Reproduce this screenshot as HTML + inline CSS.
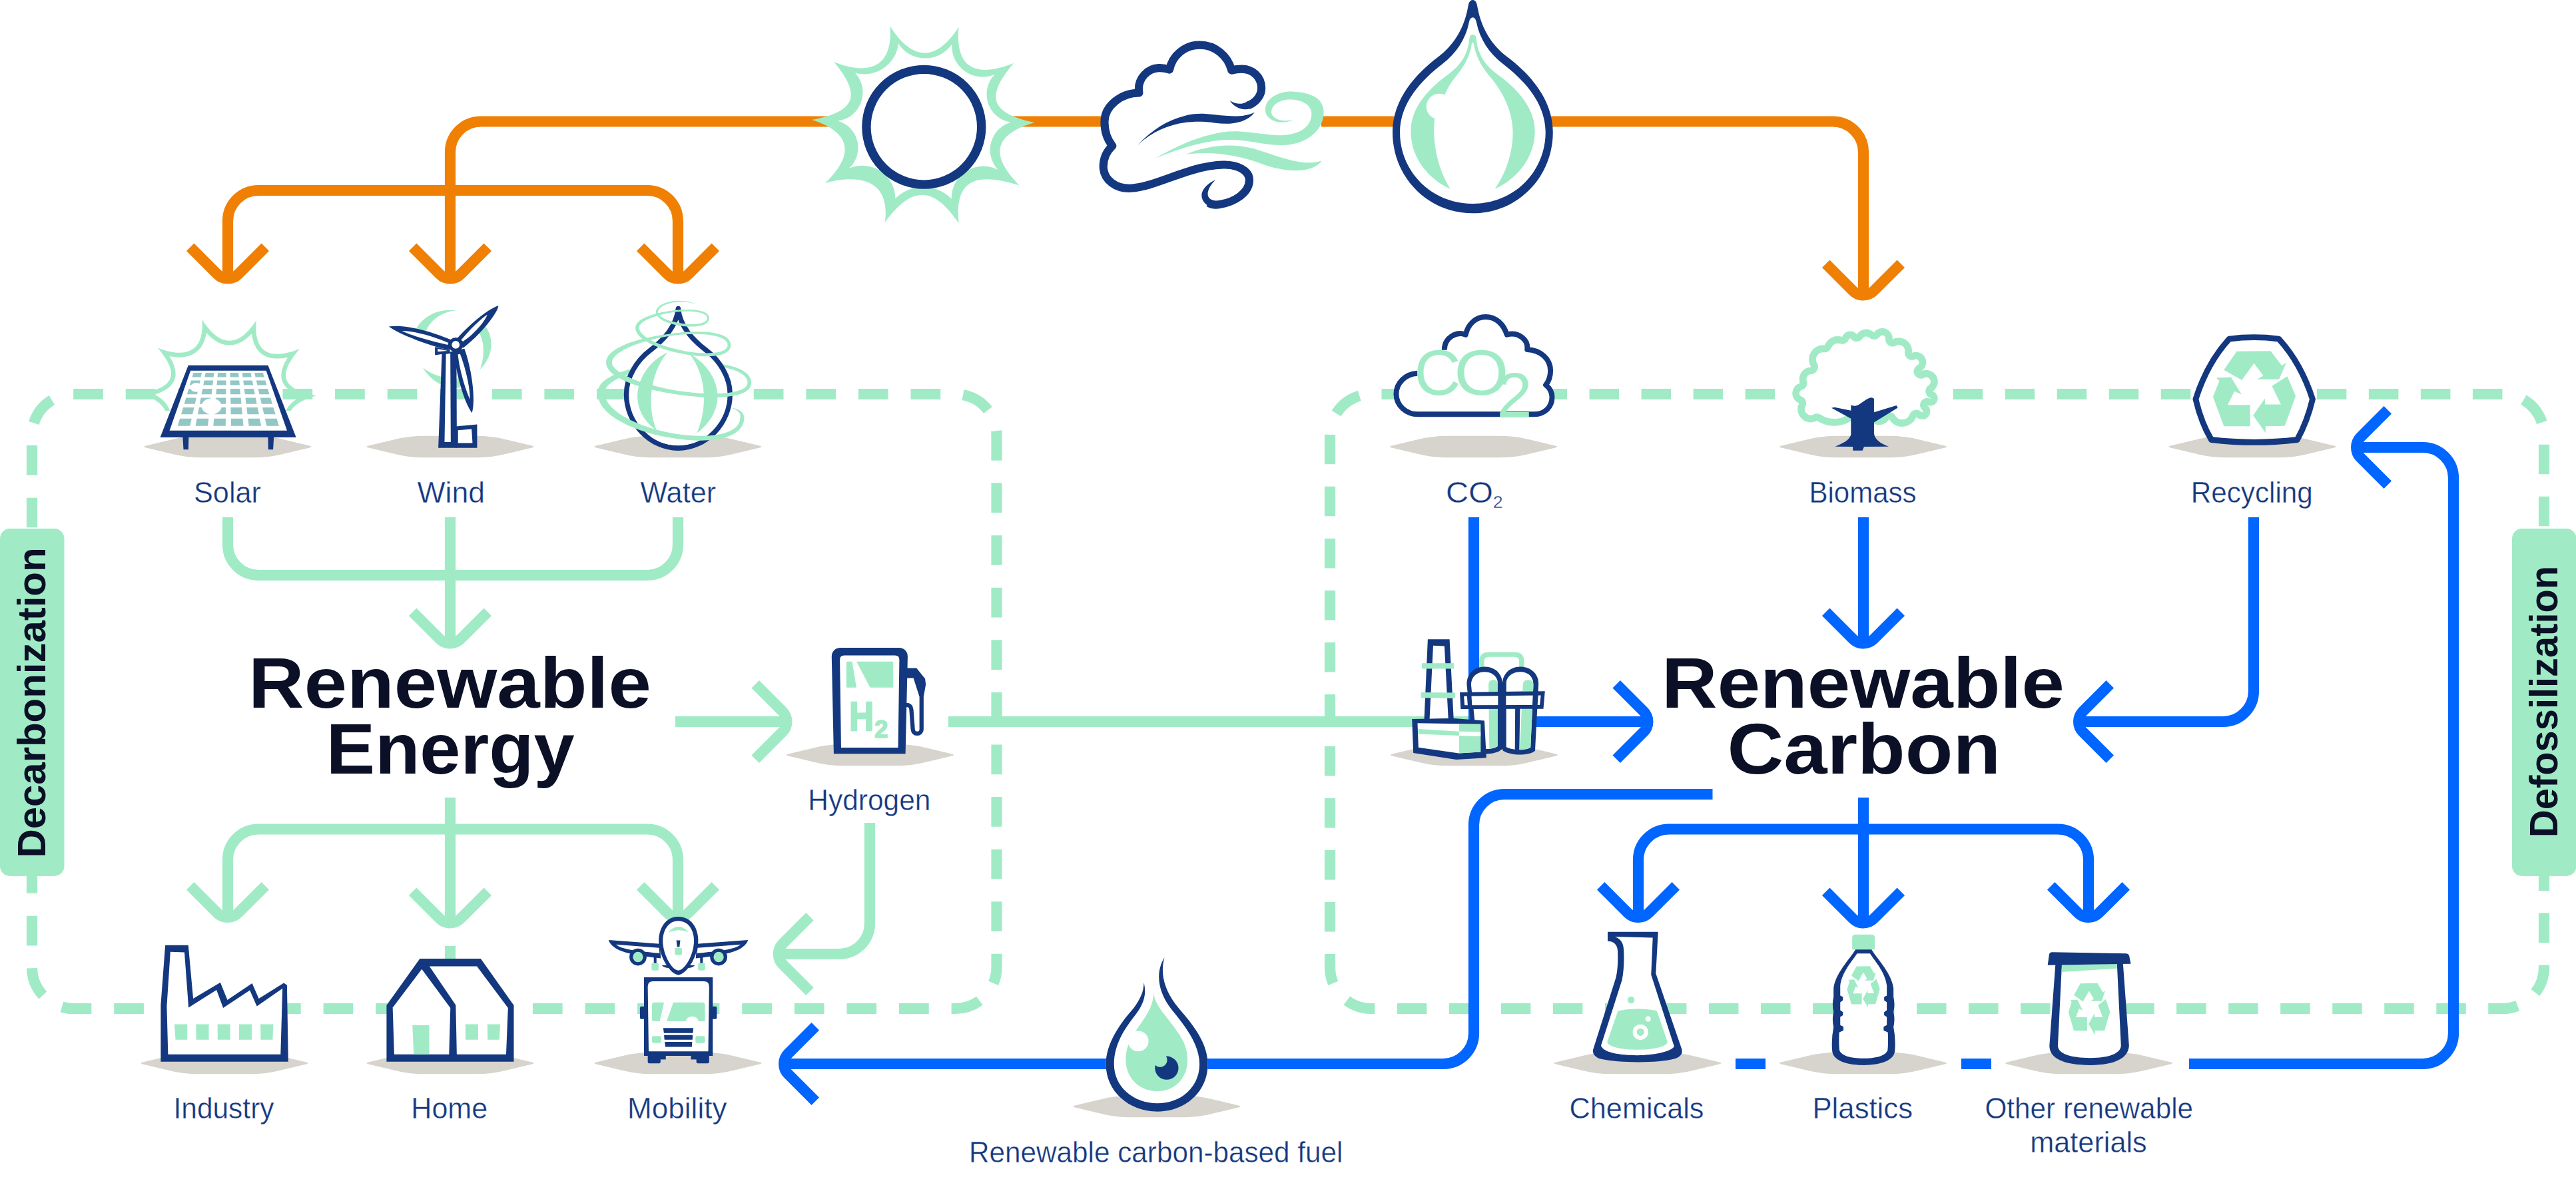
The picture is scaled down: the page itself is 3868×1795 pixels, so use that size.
<!DOCTYPE html><html><head><meta charset="utf-8"><title>Renewable Energy and Renewable Carbon</title><style>html,body{margin:0;padding:0;background:#fff}svg{display:block}text{font-family:"Liberation Sans",sans-serif}.lb{stroke:#fff;stroke-width:0.4px}</style></head><body>
<svg width="3868" height="1795" viewBox="0 0 3868 1795">
<rect width="3868" height="1795" fill="#fff"/>
<path d="M48,1000 V654 A62,62 0 0 1 110,592 H1434.5 A62,62 0 0 1 1496.5,654 V1453 A62,62 0 0 1 1434.5,1515 H110 A62,62 0 0 1 48,1453 V1000" fill="none" stroke="#a0ebc6" stroke-width="16.2" stroke-dasharray="44.7 33.886" stroke-dashoffset="-50.459"/>
<path d="M3820,1000 V1453 A62,62 0 0 1 3758,1515 H2059 A62,62 0 0 1 1997,1453 V654 A62,62 0 0 1 2059,592 H3758 A62,62 0 0 1 3820,654 V1000" fill="none" stroke="#a0ebc6" stroke-width="16.2" stroke-dasharray="44.5 33.520" stroke-dashoffset="-59.348"/>
<path d="M219.3,669.5 L258.2,660.2 Q279.5,654.7 303.5,654.7 L380.5,654.7 Q404.5,654.7 425.8,660.2 L464.7,669.5 Q470.5,671.0 464.7,672.5 L425.8,681.8 Q404.5,687.3 380.5,687.3 L303.5,687.3 Q279.5,687.3 258.2,681.8 L219.3,672.5 Q213.5,671.0 219.3,669.5 Z" fill="#d7d3cd"/>
<path d="M553.3,669.5 L592.2,660.2 Q613.5,654.7 637.5,654.7 L714.5,654.7 Q738.5,654.7 759.8,660.2 L798.7,669.5 Q804.5,671.0 798.7,672.5 L759.8,681.8 Q738.5,687.3 714.5,687.3 L637.5,687.3 Q613.5,687.3 592.2,681.8 L553.3,672.5 Q547.5,671.0 553.3,669.5 Z" fill="#d7d3cd"/>
<path d="M895.3,669.5 L934.2,660.2 Q955.5,654.7 979.5,654.7 L1056.5,654.7 Q1080.5,654.7 1101.8,660.2 L1140.7,669.5 Q1146.5,671.0 1140.7,672.5 L1101.8,681.8 Q1080.5,687.3 1056.5,687.3 L979.5,687.3 Q955.5,687.3 934.2,681.8 L895.3,672.5 Q889.5,671.0 895.3,669.5 Z" fill="#d7d3cd"/>
<path d="M2089.8,669.5 L2128.7,660.2 Q2150.0,654.7 2174.0,654.7 L2251.0,654.7 Q2275.0,654.7 2296.3,660.2 L2335.2,669.5 Q2341.0,671.0 2335.2,672.5 L2296.3,681.8 Q2275.0,687.3 2251.0,687.3 L2174.0,687.3 Q2150.0,687.3 2128.7,681.8 L2089.8,672.5 Q2084.0,671.0 2089.8,669.5 Z" fill="#d7d3cd"/>
<path d="M2674.8,669.5 L2713.7,660.2 Q2735.0,654.7 2759.0,654.7 L2836.0,654.7 Q2860.0,654.7 2881.3,660.2 L2920.2,669.5 Q2926.0,671.0 2920.2,672.5 L2881.3,681.8 Q2860.0,687.3 2836.0,687.3 L2759.0,687.3 Q2735.0,687.3 2713.7,681.8 L2674.8,672.5 Q2669.0,671.0 2674.8,669.5 Z" fill="#d7d3cd"/>
<path d="M3259.3,669.5 L3298.2,660.2 Q3319.5,654.7 3343.5,654.7 L3420.5,654.7 Q3444.5,654.7 3465.8,660.2 L3504.7,669.5 Q3510.5,671.0 3504.7,672.5 L3465.8,681.8 Q3444.5,687.3 3420.5,687.3 L3343.5,687.3 Q3319.5,687.3 3298.2,681.8 L3259.3,672.5 Q3253.5,671.0 3259.3,669.5 Z" fill="#d7d3cd"/>
<path d="M1183.8,1132.5 L1222.7,1123.2 Q1244.0,1117.7 1268.0,1117.7 L1345.0,1117.7 Q1369.0,1117.7 1390.3,1123.2 L1429.2,1132.5 Q1435.0,1134.0 1429.2,1135.5 L1390.3,1144.8 Q1369.0,1150.3 1345.0,1150.3 L1268.0,1150.3 Q1244.0,1150.3 1222.7,1144.8 L1183.8,1135.5 Q1178.0,1134.0 1183.8,1132.5 Z" fill="#d7d3cd"/>
<path d="M2090.8,1132.5 L2129.7,1123.2 Q2151.0,1117.7 2175.0,1117.7 L2252.0,1117.7 Q2276.0,1117.7 2297.3,1123.2 L2336.2,1132.5 Q2342.0,1134.0 2336.2,1135.5 L2297.3,1144.8 Q2276.0,1150.3 2252.0,1150.3 L2175.0,1150.3 Q2151.0,1150.3 2129.7,1144.8 L2090.8,1135.5 Q2085.0,1134.0 2090.8,1132.5 Z" fill="#d7d3cd"/>
<path d="M214.3,1595.5 L253.2,1586.2 Q274.5,1580.7 298.5,1580.7 L375.5,1580.7 Q399.5,1580.7 420.8,1586.2 L459.7,1595.5 Q465.5,1597.0 459.7,1598.5 L420.8,1607.8 Q399.5,1613.3 375.5,1613.3 L298.5,1613.3 Q274.5,1613.3 253.2,1607.8 L214.3,1598.5 Q208.5,1597.0 214.3,1595.5 Z" fill="#d7d3cd"/>
<path d="M553.3,1595.5 L592.2,1586.2 Q613.5,1580.7 637.5,1580.7 L714.5,1580.7 Q738.5,1580.7 759.8,1586.2 L798.7,1595.5 Q804.5,1597.0 798.7,1598.5 L759.8,1607.8 Q738.5,1613.3 714.5,1613.3 L637.5,1613.3 Q613.5,1613.3 592.2,1607.8 L553.3,1598.5 Q547.5,1597.0 553.3,1595.5 Z" fill="#d7d3cd"/>
<path d="M895.3,1595.5 L934.2,1586.2 Q955.5,1580.7 979.5,1580.7 L1056.5,1580.7 Q1080.5,1580.7 1101.8,1586.2 L1140.7,1595.5 Q1146.5,1597.0 1140.7,1598.5 L1101.8,1607.8 Q1080.5,1613.3 1056.5,1613.3 L979.5,1613.3 Q955.5,1613.3 934.2,1607.8 L895.3,1598.5 Q889.5,1597.0 895.3,1595.5 Z" fill="#d7d3cd"/>
<path d="M2336.3,1595.5 L2375.2,1586.2 Q2396.5,1580.7 2420.5,1580.7 L2497.5,1580.7 Q2521.5,1580.7 2542.8,1586.2 L2581.7,1595.5 Q2587.5,1597.0 2581.7,1598.5 L2542.8,1607.8 Q2521.5,1613.3 2497.5,1613.3 L2420.5,1613.3 Q2396.5,1613.3 2375.2,1607.8 L2336.3,1598.5 Q2330.5,1597.0 2336.3,1595.5 Z" fill="#d7d3cd"/>
<path d="M2674.8,1595.5 L2713.7,1586.2 Q2735.0,1580.7 2759.0,1580.7 L2836.0,1580.7 Q2860.0,1580.7 2881.3,1586.2 L2920.2,1595.5 Q2926.0,1597.0 2920.2,1598.5 L2881.3,1607.8 Q2860.0,1613.3 2836.0,1613.3 L2759.0,1613.3 Q2735.0,1613.3 2713.7,1607.8 L2674.8,1598.5 Q2669.0,1597.0 2674.8,1595.5 Z" fill="#d7d3cd"/>
<path d="M3013.8,1595.5 L3052.7,1586.2 Q3074.0,1580.7 3098.0,1580.7 L3175.0,1580.7 Q3199.0,1580.7 3220.3,1586.2 L3259.2,1595.5 Q3265.0,1597.0 3259.2,1598.5 L3220.3,1607.8 Q3199.0,1613.3 3175.0,1613.3 L3098.0,1613.3 Q3074.0,1613.3 3052.7,1607.8 L3013.8,1598.5 Q3008.0,1597.0 3013.8,1595.5 Z" fill="#d7d3cd"/>
<path d="M1614.3,1660.5 L1653.2,1651.2 Q1674.5,1645.7 1698.5,1645.7 L1775.5,1645.7 Q1799.5,1645.7 1820.8,1651.2 L1859.7,1660.5 Q1865.5,1662.0 1859.7,1663.5 L1820.8,1672.8 Q1799.5,1678.3 1775.5,1678.3 L1698.5,1678.3 Q1674.5,1678.3 1653.2,1672.8 L1614.3,1663.5 Q1608.5,1662.0 1614.3,1660.5 Z" fill="#d7d3cd"/>
<path d="M1656,182.5 H722 A46,46 0 0 0 676,228.5 V418" fill="none" stroke="#ef8004" stroke-width="16.2" />
<path d="M1984,182.5 H2094" fill="none" stroke="#ef8004" stroke-width="16.2" />
<path d="M2328,182.5 H2752 A46,46 0 0 1 2798,228.5 V443" fill="none" stroke="#ef8004" stroke-width="16.2" />
<path d="M342,418 V332 A46,46 0 0 1 388,286 H972 A46,46 0 0 1 1018,332 V418" fill="none" stroke="#ef8004" stroke-width="16.2" />
<path d="M285.7,371.3 L326.4,412.0 A22,22 0 0 0 357.6,412.0 L398.3,371.3" fill="none" stroke="#ef8004" stroke-width="16.2"/>
<path d="M619.7,371.3 L660.4,412.0 A22,22 0 0 0 691.6,412.0 L732.3,371.3" fill="none" stroke="#ef8004" stroke-width="16.2"/>
<path d="M961.7,371.3 L1002.4,412.0 A22,22 0 0 0 1033.6,412.0 L1074.3,371.3" fill="none" stroke="#ef8004" stroke-width="16.2"/>
<path d="M2741.7,396.2 L2782.4,436.9 A22,22 0 0 0 2813.6,436.9 L2854.3,396.2" fill="none" stroke="#ef8004" stroke-width="16.2"/>
<path d="M342,777 V818 A46,46 0 0 0 388,864 H972 A46,46 0 0 0 1018,818 V777" fill="none" stroke="#a0ebc6" stroke-width="16.2" />
<path d="M676,777 V966" fill="none" stroke="#a0ebc6" stroke-width="16.2" />
<path d="M619.7,919.2 L660.4,959.9 A22,22 0 0 0 691.6,959.9 L732.3,919.2" fill="none" stroke="#a0ebc6" stroke-width="16.2"/>
<path d="M1014,1084 H1181" fill="none" stroke="#a0ebc6" stroke-width="16.2" />
<path d="M1134.2,1140.3 L1174.9,1099.6 A22,22 0 0 0 1174.9,1068.4 L1134.2,1027.7" fill="none" stroke="#a0ebc6" stroke-width="16.2"/>
<path d="M1424,1084 H2206" fill="none" stroke="#a0ebc6" stroke-width="16.2" />
<path d="M676,1198 V1386" fill="none" stroke="#a0ebc6" stroke-width="16.2" />
<path d="M619.7,1339.2 L660.4,1379.9 A22,22 0 0 0 691.6,1379.9 L732.3,1339.2" fill="none" stroke="#a0ebc6" stroke-width="16.2"/>
<path d="M342,1378 V1291.5 A46,46 0 0 1 388,1245.5 H972 A46,46 0 0 1 1018,1291.5 V1378" fill="none" stroke="#a0ebc6" stroke-width="16.2" />
<path d="M285.7,1330.7 L326.4,1371.4 A22,22 0 0 0 357.6,1371.4 L398.3,1330.7" fill="none" stroke="#a0ebc6" stroke-width="16.2"/>
<path d="M961.7,1330.7 L1002.4,1371.4 A22,22 0 0 0 1033.6,1371.4 L1074.3,1330.7" fill="none" stroke="#a0ebc6" stroke-width="16.2"/>
<path d="M676,1421 V1445" fill="none" stroke="#a0ebc6" stroke-width="16.2" />
<path d="M1306,1236 V1387 A46,46 0 0 1 1260,1433 H1168" fill="none" stroke="#a0ebc6" stroke-width="16.2" />
<path d="M1216.0,1376.7 L1175.3,1417.4 A22,22 0 0 0 1175.3,1448.6 L1216.0,1489.3" fill="none" stroke="#a0ebc6" stroke-width="16.2"/>
<path d="M2213,777 V1084 H2474" fill="none" stroke="#0066ff" stroke-width="16.2" />
<path d="M2427.2,1140.3 L2467.9,1099.6 A22,22 0 0 0 2467.9,1068.4 L2427.2,1027.7" fill="none" stroke="#0066ff" stroke-width="16.2"/>
<path d="M2798,777 V966" fill="none" stroke="#0066ff" stroke-width="16.2" />
<path d="M2741.7,919.2 L2782.4,959.9 A22,22 0 0 0 2813.6,959.9 L2854.3,919.2" fill="none" stroke="#0066ff" stroke-width="16.2"/>
<path d="M3384,777 V1038 A46,46 0 0 1 3338,1084 H3121" fill="none" stroke="#0066ff" stroke-width="16.2" />
<path d="M3168.3,1027.7 L3127.6,1068.4 A22,22 0 0 0 3127.6,1099.6 L3168.3,1140.3" fill="none" stroke="#0066ff" stroke-width="16.2"/>
<path d="M2798,1198 V1386" fill="none" stroke="#0066ff" stroke-width="16.2" />
<path d="M2741.7,1339.2 L2782.4,1379.9 A22,22 0 0 0 2813.6,1379.9 L2854.3,1339.2" fill="none" stroke="#0066ff" stroke-width="16.2"/>
<path d="M2460,1378 V1291.5 A46,46 0 0 1 2506,1245.5 H3090 A46,46 0 0 1 3136,1291.5 V1378" fill="none" stroke="#0066ff" stroke-width="16.2" />
<path d="M2403.7,1330.7 L2444.4,1371.4 A22,22 0 0 0 2475.6,1371.4 L2516.3,1330.7" fill="none" stroke="#0066ff" stroke-width="16.2"/>
<path d="M3079.7,1330.7 L3120.4,1371.4 A22,22 0 0 0 3151.6,1371.4 L3192.3,1330.7" fill="none" stroke="#0066ff" stroke-width="16.2"/>
<path d="M2571.5,1193 H2259 A46,46 0 0 0 2213,1239 V1552 A46,46 0 0 1 2167,1598 H1177" fill="none" stroke="#0066ff" stroke-width="16.2" />
<path d="M1224.3,1541.7 L1183.6,1582.4 A22,22 0 0 0 1183.6,1613.6 L1224.3,1654.3" fill="none" stroke="#0066ff" stroke-width="16.2"/>
<path d="M2606,1598 H2651 M2945,1598 H2990" fill="none" stroke="#0066ff" stroke-width="16.2" />
<path d="M3287,1598 H3638 A46,46 0 0 0 3684,1552 V718 A46,46 0 0 0 3638,672 H3538" fill="none" stroke="#0066ff" stroke-width="16.2" />
<path d="M3585.3,615.7 L3544.6,656.4 A22,22 0 0 0 3544.6,687.6 L3585.3,728.3" fill="none" stroke="#0066ff" stroke-width="16.2"/>
<rect x="0" y="794" width="96.5" height="522" rx="15" fill="#a0ebc6"/>
<rect x="3772" y="794" width="96.5" height="522" rx="15" fill="#a0ebc6"/>
<text transform="translate(68,1055.50) rotate(-90)" text-anchor="middle" font-size="58.5" font-weight="700" fill="#0b1026" textLength="466.14" lengthAdjust="spacingAndGlyphs">Decarbonization</text>
<text transform="translate(3840,1053.90) rotate(-90)" text-anchor="middle" font-size="58.5" font-weight="700" fill="#0b1026" textLength="408.21" lengthAdjust="spacingAndGlyphs">Defossilization</text>
<g transform="translate(210,460) scale(0.200893)"><clipPath id="solclip"><rect x="-200" y="0" width="1800" height="782"/></clipPath><clipPath id="solstar"><path d="M472.0,35.0 C489.8,256.7 363.4,317.8 157.0,235.0 C315.9,423.4 277.4,515.7 35.0,560.0 C254.8,630.0 275.0,755.8 108.0,915.0 C323.1,854.9 475.1,914.0 443.0,1135.0 C594.1,929.0 714.7,927.9 857.0,1140.0 C831.4,890.7 958.1,852.6 1197.0,928.0 C1029.6,757.5 1052.7,642.1 1282.0,575.0 C1037.5,524.4 1002.4,432.5 1165.0,243.0 C950.1,327.1 836.1,269.9 857.0,40.0 C728.8,236.0 598.1,232.3 472.0,35.0 Z"/></clipPath><g clip-path="url(#solclip)"><g transform="translate(-32,63.1) scale(1.053)"><path d="M472.0,35.0 C489.8,256.7 363.4,317.8 157.0,235.0 C315.9,423.4 277.4,515.7 35.0,560.0 C254.8,630.0 275.0,755.8 108.0,915.0 C323.1,854.9 475.1,914.0 443.0,1135.0 C594.1,929.0 714.7,927.9 857.0,1140.0 C831.4,890.7 958.1,852.6 1197.0,928.0 C1029.6,757.5 1052.7,642.1 1282.0,575.0 C1037.5,524.4 1002.4,432.5 1165.0,243.0 C950.1,327.1 836.1,269.9 857.0,40.0 C728.8,236.0 598.1,232.3 472.0,35.0 Z" fill="none" stroke="#a0ebc6" stroke-width="64" clip-path="url(#solstar)"/></g></g><polygon points="362,442 958,442 1168,980 152,980" fill="#14387f"/><polygon points="379,482 944,482 1100,930 222,930" fill="#fff"/><polygon points="320,975 365,975 363,1072 326,1072" fill="#14387f"/><polygon points="958,975 1002,975 996,1072 960,1072" fill="#14387f"/><path d="M400,498 L463,498 L456,530 L391,530 Z M491,498 L555,498 L551,530 L485,530 Z M583,498 L646,498 L646,530 L580,530 Z M674,498 L737,498 L740,530 L675,530 Z M765,498 L829,498 L835,530 L769,530 Z M857,498 L920,498 L930,530 L864,530 Z M383,555 L451,555 L443,590 L373,590 Z M481,555 L548,555 L544,590 L474,590 Z M578,555 L645,555 L645,590 L575,590 Z M675,555 L743,555 L746,590 L676,590 Z M773,555 L840,555 L847,590 L777,590 Z M870,555 L937,555 L948,590 L878,590 Z M365,617 L437,617 L428,658 L353,658 Z M469,617 L541,617 L536,658 L461,658 Z M573,617 L644,617 L644,658 L569,658 Z M676,617 L748,617 L752,658 L677,658 Z M780,617 L852,617 L860,658 L785,658 Z M884,617 L956,617 L968,658 L894,658 Z M345,685 L422,685 L412,730 L332,730 Z M456,685 L533,685 L527,730 L447,730 Z M567,685 L644,685 L643,730 L563,730 Z M678,685 L755,685 L759,730 L679,730 Z M789,685 L866,685 L874,730 L794,730 Z M900,685 L977,685 L990,730 L910,730 Z M324,757 L406,757 L394,808 L309,808 Z M442,757 L524,757 L518,808 L433,808 Z M561,757 L643,757 L642,808 L556,808 Z M679,757 L761,757 L766,808 L680,808 Z M798,757 L880,757 L890,808 L804,808 Z M916,757 L998,757 L1014,808 L928,808 Z M299,840 L387,840 L375,895 L283,895 Z M426,840 L514,840 L508,895 L416,895 Z M554,840 L642,840 L641,895 L549,895 Z M681,840 L769,840 L774,895 L682,895 Z M808,840 L896,840 L907,895 L815,895 Z M935,840 L1023,840 L1040,895 L948,895 Z " fill="#92c7c5"/><ellipse cx="420.4" cy="607.2" rx="43.3" ry="34.3" fill="#fff"/><ellipse cx="536.1" cy="747.9" rx="74" ry="60" fill="#fff"/></g>
<g transform="translate(545,440) scale(0.217566)"><path d="M645,122 C540,105 420,150 366,250 L436,262 C470,180 560,125 645,122 Z" fill="#a0ebc6"/><path d="M846,232 C912,320 892,450 808,527 C842,440 840,330 795,262 Z" fill="#a0ebc6"/><path d="M413,515 C470,610 560,662 670,655 L670,590 C580,600 480,570 413,515 Z" fill="#a0ebc6"/><polygon points="545,415 645,400 648,1070 520,1070" fill="#14387f"/><polygon points="573,420 603,418 606,1030 563,1030" fill="#fff"/><polygon points="497,372 600,395 600,418 548,422 497,430" fill="#14387f"/><polygon points="516,386 585,400 516,406" fill="#fff"/><polygon points="640,922 788,908 788,1070 640,1070" fill="#14387f"/><polygon points="656,948 750,940 756,1036 656,1036" fill="#fff"/><path d="M178,232 C300,215 480,270 610,325 L600,395 C470,370 260,290 178,232 Z" fill="#14387f"/><path d="M268,262 C360,262 500,305 590,345 L585,358 C480,335 350,300 268,262 Z" fill="#fff"/><path d="M935,88 C930,140 800,300 690,380 L640,325 C720,230 860,110 935,88 Z" fill="#14387f"/><path d="M858,150 C840,200 760,290 690,335 L678,325 C730,260 810,180 858,150 Z" fill="#fff"/><path d="M752,828 C700,760 640,560 628,400 L700,385 C750,520 780,740 752,828 Z" fill="#14387f"/><path d="M738,735 C700,650 665,520 655,425 L670,420 C705,510 740,650 738,735 Z" fill="#fff"/><circle cx="640" cy="358" r="50" fill="#14387f"/><circle cx="640" cy="358" r="27" fill="#fff"/></g>
<g transform="translate(885,440) scale(0.217566)"><path d="M1118.0,620.0 L1113.0,593.3 L1099.7,569.9 L1079.6,550.0 L1053.7,533.2 L1022.7,519.0 L986.9,507.1 L947.0,497.4 L903.3,489.7 L856.4,484.0 L806.7,480.2 L754.9,478.2 L701.5,478.1 L647.0,479.7 L592.0,483.0 L536.9,486.3 L482.2,491.3 L428.5,497.9 L376.4,506.2 L326.4,516.0 L279.1,527.3 L234.8,540.2 L194.2,554.7 L157.6,570.9 L125.5,589.0 L98.2,609.3 L76.5,632.5 L61.4,659.4 L55.0,690.0 L105.0,690.0 L106.3,674.6 L113.4,657.9 L127.3,640.0 L148.1,621.6 L175.2,603.6 L207.9,586.5 L245.5,570.4 L287.4,555.5 L332.8,542.0 L381.2,530.0 L432.1,519.4 L484.7,510.3 L538.5,502.8 L593.0,497.0 L647.6,494.5 L701.6,493.8 L754.5,494.8 L805.6,497.6 L854.4,502.2 L900.3,508.6 L942.7,517.0 L981.0,527.1 L1014.6,539.2 L1042.7,552.9 L1064.8,568.2 L1080.4,584.6 L1089.3,601.7 L1092.0,620.0 Z" fill="#a0ebc6"/><path d="M613,108 C600,230 520,320 415,400 C330,465 255,580 255,700 C255,900 420,1072 613,1072 C806,1072 971,900 971,700 C971,580 896,465 811,400 C706,320 626,230 613,108 Z" fill="#fff"/><path d="M540,410 C340,500 230,780 465,950 C400,800 410,560 540,410 Z" fill="#a0ebc6"/><path d="M690,420 C880,520 990,780 740,970 C810,820 820,580 690,420 Z" fill="#a0ebc6"/><path d="M613,108 C600,230 520,320 415,400 C330,465 255,580 255,700 C255,900 420,1072 613,1072 C806,1072 971,900 971,700 C971,580 896,465 811,400 C706,320 626,230 613,108 Z" fill="none" stroke="#14387f" stroke-width="34" stroke-linejoin="round"/><path d="M330,930 C420,1040 520,1075 613,1075 C706,1075 806,1040 896,930 C800,1020 700,1055 613,1055 C526,1055 426,1020 330,930 Z" fill="#14387f"/><path d="M730.4,74.1 L720.5,70.2 L710.1,66.8 L699.3,63.8 L688.2,61.2 L676.7,59.1 L664.9,57.3 L652.9,56.0 L640.8,55.1 L628.7,54.6 L616.5,54.5 L604.3,54.8 L592.2,55.5 L580.2,56.6 L568.5,58.2 L557.0,60.3 L545.9,62.8 L535.1,65.7 L524.8,69.0 L514.9,72.8 L505.6,77.0 L496.8,81.6 L488.8,86.7 L481.4,92.3 L474.7,98.4 L468.9,105.1 L464.1,112.3 L460.3,120.1 L457.7,128.4 L472.3,131.6 L474.0,125.3 L476.6,119.2 L480.2,113.4 L484.6,107.7 L490.0,102.3 L496.3,97.2 L503.3,92.3 L511.1,87.8 L519.6,83.6 L528.7,79.7 L538.4,76.2 L548.6,73.1 L559.2,70.4 L570.2,68.0 L581.5,66.0 L593.1,64.3 L604.8,63.0 L616.7,62.2 L628.7,61.7 L640.6,61.6 L652.5,62.0 L664.3,62.7 L676.0,63.9 L687.4,65.5 L698.5,67.4 L709.3,69.9 L719.7,72.7 L729.6,75.9 Z M457.5,130.0 L459.0,141.5 L463.5,152.4 L470.4,162.4 L479.5,171.5 L490.4,180.0 L503.0,187.9 L517.0,195.1 L532.3,201.8 L548.8,207.9 L566.2,213.4 L584.3,218.2 L603.0,222.4 L622.1,226.0 L641.4,228.9 L660.7,230.9 L679.8,232.1 L698.6,232.6 L716.8,232.3 L734.2,231.2 L750.7,229.2 L766.2,226.4 L780.4,222.7 L793.1,217.9 L804.3,212.0 L813.7,204.9 L820.9,196.3 L825.5,186.2 L827.0,175.0 L813.0,175.0 L811.8,182.1 L808.7,188.2 L803.6,193.9 L796.4,199.1 L787.0,203.7 L775.8,207.6 L762.9,210.8 L748.5,213.1 L732.9,214.7 L716.2,215.4 L698.8,215.5 L680.7,214.7 L662.3,213.2 L643.6,211.1 L624.9,208.5 L606.5,205.2 L588.4,201.3 L570.8,196.9 L554.1,191.8 L538.4,186.2 L523.9,180.2 L510.9,173.7 L499.4,166.8 L489.9,159.6 L482.3,152.2 L476.9,144.8 L473.6,137.4 L472.5,130.0 Z M827.0,175.0 L824.7,161.9 L818.2,150.6 L808.4,141.2 L795.9,133.7 L780.9,127.5 L763.6,122.7 L744.4,119.1 L723.5,116.6 L701.0,115.1 L677.2,114.7 L652.3,115.2 L626.7,116.6 L600.6,118.9 L574.2,122.1 L547.7,125.5 L521.5,129.7 L495.8,134.6 L470.8,140.3 L446.8,146.7 L424.1,153.7 L402.9,161.5 L383.4,169.8 L365.8,178.9 L350.5,188.7 L337.5,199.5 L327.1,211.4 L320.0,224.9 L317.0,240.0 L343.0,240.0 L343.7,232.7 L347.2,224.5 L353.9,215.5 L363.8,206.2 L376.7,196.9 L392.3,187.7 L410.2,179.0 L430.2,170.7 L451.8,162.9 L474.9,155.8 L499.1,149.2 L524.2,143.4 L549.8,138.3 L575.8,133.9 L601.8,131.0 L627.6,128.8 L652.8,127.6 L677.1,127.2 L700.4,127.8 L722.3,129.4 L742.4,132.0 L760.6,135.5 L776.6,140.1 L789.9,145.7 L800.2,152.1 L807.5,159.1 L811.6,166.6 L813.0,175.0 Z M317.0,240.0 L320.1,259.4 L328.3,277.5 L340.9,294.3 L357.0,310.1 L376.5,324.9 L398.9,338.9 L423.9,352.2 L451.2,364.7 L480.5,376.4 L511.5,387.2 L543.8,397.2 L577.1,406.2 L611.1,414.1 L645.5,421.1 L679.8,427.0 L713.7,431.7 L747.1,435.1 L779.4,437.3 L810.4,438.0 L839.7,437.2 L867.1,434.9 L892.2,430.9 L914.8,425.1 L934.6,417.2 L951.4,407.1 L964.5,394.2 L973.0,378.3 L976.0,360.0 L954.0,360.0 L952.2,371.2 L947.0,380.8 L938.0,389.6 L925.0,397.5 L908.1,404.1 L887.8,409.3 L864.5,413.0 L838.5,415.2 L810.4,416.0 L780.4,415.3 L748.9,413.2 L716.4,409.8 L683.2,405.2 L649.5,399.4 L616.0,392.4 L582.7,384.3 L550.2,375.2 L518.8,365.3 L488.8,354.5 L460.6,342.9 L434.6,330.7 L411.1,317.9 L390.5,304.7 L373.3,291.2 L359.8,277.7 L350.2,264.5 L344.7,251.9 L343.0,240.0 Z M976.0,360.0 L971.9,338.8 L960.9,320.7 L944.3,305.9 L923.2,294.2 L897.9,284.8 L868.9,277.7 L836.5,272.5 L801.1,269.2 L763.1,267.6 L722.9,267.7 L681.0,269.4 L637.7,272.6 L593.6,277.3 L549.0,283.3 L504.2,289.4 L459.9,296.9 L416.3,305.5 L374.1,315.2 L333.5,326.1 L295.1,338.1 L259.2,351.0 L226.3,365.0 L196.7,380.0 L170.8,396.2 L148.8,413.8 L131.3,433.2 L119.2,455.3 L114.0,480.0 L156.0,480.0 L157.0,468.1 L162.9,454.4 L174.3,439.2 L191.2,423.4 L213.2,407.5 L239.7,391.9 L270.1,376.8 L304.0,362.5 L340.7,349.0 L379.9,336.5 L421.0,324.9 L463.5,314.5 L507.0,305.2 L551.0,297.2 L595.2,291.7 L639.0,287.7 L681.8,285.1 L723.1,284.0 L762.6,284.4 L799.8,286.6 L834.1,290.4 L865.1,295.9 L892.2,303.1 L914.9,312.0 L932.6,322.5 L944.9,334.0 L951.9,346.3 L954.0,360.0 Z M114.0,480.0 L119.4,506.8 L133.0,530.8 L152.8,552.2 L177.9,571.7 L207.8,589.9 L242.0,606.9 L280.2,622.8 L321.9,637.8 L366.6,651.6 L413.9,664.4 L463.2,676.0 L514.0,686.4 L565.8,695.4 L618.1,703.1 L670.4,709.9 L722.1,715.2 L772.8,718.9 L821.9,721.0 L869.0,721.3 L913.5,719.7 L954.9,716.2 L992.8,710.7 L1026.7,703.0 L1056.3,692.9 L1081.0,680.1 L1100.5,663.9 L1113.4,643.7 L1118.0,620.0 L1092.0,620.0 L1089.3,633.9 L1081.2,646.4 L1066.9,658.3 L1046.3,668.9 L1019.8,678.0 L988.1,685.1 L952.0,690.4 L911.9,693.8 L868.6,695.3 L822.5,695.0 L774.3,693.0 L724.4,689.3 L673.4,684.1 L621.9,677.4 L570.4,668.7 L519.6,658.6 L469.8,647.3 L421.7,634.8 L375.8,621.3 L332.7,606.7 L292.9,591.3 L257.0,575.1 L225.7,558.3 L199.5,541.2 L179.2,524.1 L165.3,507.7 L157.8,492.8 L156.0,480.0 Z M55.0,690.0 L60.0,725.4 L72.9,758.7 L92.5,789.6 L118.0,818.1 L148.4,844.7 L183.3,869.3 L222.2,892.2 L264.6,913.3 L310.0,932.7 L358.0,950.3 L407.9,966.0 L459.3,979.8 L511.8,991.6 L564.7,1001.3 L617.5,1009.2 L669.8,1014.9 L721.1,1018.2 L770.8,1019.1 L818.5,1017.4 L863.7,1013.0 L905.8,1005.9 L944.4,995.7 L979.0,982.4 L1009.1,965.7 L1034.1,945.2 L1053.1,920.6 L1065.0,892.0 L1069.0,860.0 L1041.0,860.0 L1037.7,884.6 L1028.4,905.9 L1013.5,924.7 L992.9,941.2 L966.7,955.3 L935.4,967.0 L899.5,976.0 L859.8,982.4 L816.6,986.2 L770.7,987.5 L722.5,986.3 L672.7,982.7 L621.8,976.8 L570.3,968.7 L519.0,958.1 L468.2,945.5 L418.5,930.9 L370.6,914.6 L324.8,896.5 L282.0,876.9 L242.4,855.9 L206.9,833.7 L175.9,810.4 L150.1,786.4 L129.8,762.0 L115.6,737.7 L107.3,713.7 L105.0,690.0 Z M1069.0,860.0 L1068.4,856.0 L1067.5,852.1 L1066.4,848.3 L1065.1,844.6 L1063.6,841.0 L1061.9,837.6 L1060.0,834.3 L1057.8,831.1 L1055.5,828.0 L1053.1,825.1 L1050.5,822.4 L1047.7,819.8 L1044.8,817.3 L1041.7,814.9 L1038.5,812.6 L1035.2,810.5 L1031.8,808.5 L1028.2,806.6 L1024.5,804.8 L1020.6,803.1 L1016.7,801.6 L1012.6,800.1 L1008.3,798.8 L1004.0,797.6 L999.5,796.5 L994.8,795.6 L990.1,794.7 L985.2,794.0 L984.8,796.0 L989.4,797.5 L993.8,799.2 L998.1,800.9 L1002.1,802.7 L1006.0,804.7 L1009.7,806.7 L1013.2,808.8 L1016.5,810.9 L1019.6,813.1 L1022.5,815.4 L1025.2,817.8 L1027.7,820.2 L1030.0,822.6 L1032.1,825.1 L1033.9,827.6 L1035.5,830.2 L1037.0,832.7 L1038.2,835.3 L1039.3,837.9 L1040.1,840.4 L1040.8,842.9 L1041.3,845.4 L1041.7,847.9 L1041.8,850.4 L1041.9,852.8 L1041.7,855.2 L1041.4,857.6 L1041.0,860.0 Z" fill="#a0ebc6"/></g>
<g transform="translate(1210,30) scale(0.267857)"><path d="M472.0,35.0 C489.8,256.7 363.4,317.8 157.0,235.0 C315.9,423.4 277.4,515.7 35.0,560.0 C254.8,630.0 275.0,755.8 108.0,915.0 C323.1,854.9 475.1,914.0 443.0,1135.0 C594.1,929.0 714.7,927.9 857.0,1140.0 C831.4,890.7 958.1,852.6 1197.0,928.0 C1029.6,757.5 1052.7,642.1 1282.0,575.0 C1037.5,524.4 1002.4,432.5 1165.0,243.0 C950.1,327.1 836.1,269.9 857.0,40.0 C728.8,236.0 598.1,232.3 472.0,35.0 Z" fill="#a0ebc6"/><path d="M519.0,133.0 A193.0,193.0 0 0 1 276.5,297.0 A161.1,161.1 0 0 1 180.0,566.0 A156.9,156.9 0 0 1 242.6,832.0 A185.5,185.5 0 0 1 501.8,1001.6 A219.8,219.8 0 0 1 816.4,1003.0 A178.8,178.8 0 0 1 1077.0,839.8 A161.8,161.8 0 0 1 1147.6,574.0 A159.7,159.7 0 0 1 1059.0,305.0 A172.0,172.0 0 0 1 819.0,135.6 A179.8,179.8 0 0 1 519.0,133.0 Z" fill="#fff"/><circle cx="662" cy="600" r="322.5" fill="#fff" stroke="#14387f" stroke-width="50"/></g>
<g transform="translate(1640,40) scale(0.242751)"><path d="M965,488 C1010,470 1047,430 1047,380 C1047,310 990,262 925,262 C900,262 880,265 862,270 C840,180 760,114 665,114 C570,114 495,180 478,266 C455,258 430,255 410,256 C340,260 288,320 288,385 C288,395 289,402 290,410 C180,410 76,490 76,590 C76,650 95,700 125,738 C85,775 69,820 69,865 C69,950 150,1005 240,1000 C400,990 600,860 810,855 C900,853 972,890 972,950 C972,1030 880,1085 790,1100 C760,1105 735,1100 720,1090" fill="none" stroke="#14387f" stroke-width="50" stroke-linejoin="round"/><path d="M852,458 C880,505 950,530 1000,495 L960,462 C925,485 890,480 852,458 Z" fill="#14387f"/><path d="M745,1122 C690,1105 668,1060 680,1025 C692,990 728,962 762,948 C736,975 715,1005 715,1035 C715,1058 730,1072 760,1078 Z" fill="#14387f"/><path d="M280,735 C400,600 560,530 700,540 C820,550 920,570 1005,530 C950,600 850,608 760,596 C600,572 420,600 280,735 Z" fill="#14387f"/><path d="M580,790 C700,740 850,715 1000,755 C1150,800 1300,870 1420,830 C1360,910 1200,905 1050,850 C900,795 750,770 580,790 Z" fill="#a0ebc6"/><path d="M390,815 C550,720 750,640 900,648 C1050,656 1150,690 1250,660 C1330,640 1362,580 1356,530 C1348,470 1270,445 1200,452 C1140,460 1100,500 1110,540 C1125,580 1190,590 1245,577 C1180,608 1090,592 1072,530 C1058,450 1150,400 1230,402 C1345,405 1432,440 1432,530 C1432,640 1330,722 1200,732 C1080,740 980,700 850,700 C700,702 550,750 390,815 Z" fill="#a0ebc6"/></g>
<g transform="translate(2070,0) scale(0.276134)"><path d="M512,0 C530,0 535,20 538,40 C560,160 620,250 700,310 C820,400 948,540 948,720 C948,960 760,1160 512,1160 C264,1160 76,960 76,720 C76,540 204,400 324,310 C404,250 464,160 486,40 C489,20 494,0 512,0 Z" fill="#14387f"/><path d="M512,95 C525,95 530,110 533,125 C550,210 600,290 680,350 C790,435 908,560 908,720 C908,930 740,1108 512,1108 C284,1108 116,930 116,720 C116,560 234,435 344,350 C424,290 474,210 491,125 C494,110 499,95 512,95 Z" fill="#fff"/><path d="M512,188 C535,188 530,215 535,240 C555,330 600,370 660,415 C760,490 850,590 850,715 C850,850 760,970 632,1028 C700,930 730,820 730,720 C730,600 670,490 600,410 C550,350 525,290 518,240 C517,228 507,228 506,240 C500,290 475,350 425,410 C395,445 375,480 360,515 L305,648 C290,760 320,920 390,1028 C262,970 175,850 175,715 C175,590 265,490 365,415 C425,370 470,330 490,240 C495,215 490,188 512,188 Z" fill="#a0ebc6"/><circle cx="330" cy="580" r="70" fill="#fff"/></g>
<g transform="translate(2075,455) scale(0.159001)"><path d="M335,665 C220,670 135,760 135,860 C135,970 230,1052 340,1052 H1440 C1540,1052 1607,980 1607,890 C1607,845 1585,805 1548,775 C1575,740 1592,690 1592,640 C1592,530 1500,445 1372,440 C1385,350 1290,270 1180,300 C1150,200 1075,132 980,132 C885,132 815,200 790,300 C700,265 590,330 590,445 Z" fill="#fff"/><path d="M335,665 C220,670 135,760 135,860 C135,970 230,1052 340,1052 H1440 C1540,1052 1607,980 1607,890 C1607,845 1585,805 1548,775 C1575,740 1592,690 1592,640 C1592,530 1500,445 1372,440 C1385,350 1290,270 1180,300 C1150,200 1075,132 980,132 C885,132 815,200 790,300 C700,265 590,330 590,445" fill="none" stroke="#14387f" stroke-width="50" stroke-linejoin="round"/><text font-size="612" fill="#a0ebc6"><tspan x="303" y="868">C</tspan><tspan x="683" y="868" textLength="515" lengthAdjust="spacingAndGlyphs">O</tspan><tspan x="1085" y="1076" font-size="600">2</tspan></text></g>
<g transform="translate(2660,470) scale(0.192440)"><clipPath id="treeclip"><path d="M215.0,705.0 A82.9,82.9 0 0 1 222.0,548.0 A94.7,94.7 0 0 1 308.0,422.0 A111.9,111.9 0 0 1 415.0,252.0 A109.1,109.1 0 0 1 552.0,187.0 A65.0,65.0 0 0 1 665.0,168.0 A88.7,88.7 0 0 1 800.0,152.0 A80.6,80.6 0 0 1 945.0,207.0 A101.8,101.8 0 0 1 1095.0,312.0 A80.6,80.6 0 0 1 1165.0,457.0 A90.5,90.5 0 0 1 1258.0,612.0 A58.2,58.2 0 1 1 1215.0,720.0 A62.8,62.8 0 1 1 1130.0,812.0 A118.0,118.0 0 0 1 918.0,830.0 A91.0,91.0 0 0 1 800.0,865.0 L620.0,845.0 A246.3,246.3 0 0 1 355.0,842.0 A102.6,102.6 0 0 1 215.0,705.0 Z"/></clipPath><path d="M215.0,705.0 A82.9,82.9 0 0 1 222.0,548.0 A94.7,94.7 0 0 1 308.0,422.0 A111.9,111.9 0 0 1 415.0,252.0 A109.1,109.1 0 0 1 552.0,187.0 A65.0,65.0 0 0 1 665.0,168.0 A88.7,88.7 0 0 1 800.0,152.0 A80.6,80.6 0 0 1 945.0,207.0 A101.8,101.8 0 0 1 1095.0,312.0 A80.6,80.6 0 0 1 1165.0,457.0 A90.5,90.5 0 0 1 1258.0,612.0 A58.2,58.2 0 1 1 1215.0,720.0 A62.8,62.8 0 1 1 1130.0,812.0 A118.0,118.0 0 0 1 918.0,830.0 A91.0,91.0 0 0 1 800.0,865.0 L620.0,845.0 A246.3,246.3 0 0 1 355.0,842.0 A102.6,102.6 0 0 1 215.0,705.0 Z" fill="#fff" stroke="#a0ebc6" stroke-width="112" stroke-linejoin="round" clip-path="url(#treeclip)"/><path d="M620,718 C640,730 665,728 690,710 C720,690 745,668 770,662 C785,660 798,664 800,672 L800,775 L975,722 L985,740 L800,855 L800,940 C805,985 850,1020 915,1043 L722,1045 L710,1075 L635,1075 L635,1045 L495,1043 C560,1020 610,990 620,950 L620,825 L468,742 L492,737 L620,762 Z" fill="#14387f"/></g>
<g transform="translate(3245,470) scale(0.192440)"><path d="M532,203 Q725,178 918,203 Q1090,390 1182,673 Q1140,850 1062,990 Q725,1030 392,990 Q310,850 270,673 Q360,390 532,203 Z" fill="#fff" stroke="#14387f" stroke-width="46" stroke-linejoin="round"/><path d="M490,445 L590,300 L855,297 L942,412 L977,388 L920,518 L750,518 L798,490 L725,393 L630,525 Z M985,495 L1050,650 L965,882 L815,885 L815,937 L718,800 L810,668 L810,715 L935,715 L865,570 Z M695,885 L490,885 L405,655 L455,530 L430,507 L545,502 L628,637 L572,612 L520,718 L695,718 Z" fill="#a0ebc6"/></g>
<g transform="translate(1170,950) scale(0.184089)"><path d="M498,125 H978 A70,70 0 0 1 1048,195 L1030,990 H445 L428,195 A70,70 0 0 1 498,125 Z" fill="#14387f"/><path d="M530,188 H945 Q980,188 980,223 L970,940 H505 L495,223 Q495,188 530,188 Z" fill="#fff"/><path d="M548,237 H595 L630,450 H548 Z M630,237 H930 V450 H742 Z" fill="#a0ebc6"/><polygon points="1035,290 1120,290 1190,378 1196,425 1178,522 1143,522 1095,372 1035,372" fill="#14387f"/><path d="M1161,500 V790 C1161,812 1145,825 1125,825 C1105,825 1092,812 1090,790 L1078,630 C1075,600 1060,592 1035,592" fill="none" stroke="#14387f" stroke-width="34"/><text font-weight="700" fill="#a0ebc6" stroke="#a0ebc6" stroke-linejoin="miter"><tspan x="572" y="801" font-size="328" stroke-width="14" textLength="200" lengthAdjust="spacingAndGlyphs">H</tspan><tspan x="777" y="860" font-size="200" stroke-width="8">2</tspan></text></g>
<g transform="translate(2075,940) scale(0.192440)"><path d="M779,330 V275 Q779,224 835,224 H1035 Q1090,224 1090,275 V330" fill="none" stroke="#a0ebc6" stroke-width="38"/><path d="M662,455 C662,370 725,320 800,320 C880,320 940,370 940,455 L938,960 C900,1005 780,1010 715,985 Z" fill="#14387f"/><path d="M696,460 C696,395 745,360 800,360 C860,360 906,395 906,460 L908,935 C880,965 800,968 745,950 Z" fill="#fff"/><path d="M832,460 Q832,422 868,422 Q906,422 906,460 L908,935 C890,952 860,958 838,958 Z" fill="#a0ebc6"/><path d="M940,455 C940,370 1005,320 1080,320 C1160,320 1222,370 1222,455 L1195,975 C1150,1015 1010,1015 945,975 Z" fill="#14387f"/><path d="M968,460 C968,395 1020,360 1080,360 C1140,360 1182,395 1182,460 L1160,950 C1120,975 1020,975 966,945 Z" fill="#fff"/><path d="M1100,460 Q1100,422 1140,422 Q1182,422 1182,460 L1160,950 C1140,962 1105,968 1075,968 Z" fill="#a0ebc6"/><polygon points="1040,640 1078,640 1072,970 1038,968" fill="#14387f"/><rect x="904" y="440" width="66" height="525" fill="#14387f"/><polygon points="608,520 1272,510 1260,648 615,650" fill="#14387f"/><polygon points="640,550 1240,543 1232,618 645,620" fill="#fff"/><polygon points="662,520 697,520 705,650 672,650" fill="#14387f"/><polygon points="906,515 968,515 968,650 906,650" fill="#14387f"/><polygon points="1180,512 1222,512 1212,650 1172,650" fill="#14387f"/><polygon points="358,105 528,105 560,735 330,735" fill="#14387f"/><polygon points="400,155 488,158 518,725 372,728" fill="#fff"/><rect x="312" y="292" width="250" height="43" fill="#a0ebc6"/><polygon points="305,520 572,522 572,566 305,562" fill="#a0ebc6"/><polygon points="235,727 560,722 800,740 815,1030 580,1044 245,992" fill="#14387f"/><polygon points="278,760 770,768 770,985 600,995 285,950" fill="#fff"/><polygon points="602,768 770,768 770,985 602,995" fill="#a0ebc6"/><polygon points="602,825 770,828 770,862 602,858" fill="#fff"/><polygon points="283,805 602,825 602,858 284,845" fill="#a0ebc6"/></g>
<g transform="translate(200,1400) scale(0.192440)"><polygon points="250,103 430,103 468,520 680,393 735,530 928,400 980,520 1175,398 1200,415 1210,1012 215,1012 215,570" fill="#14387f"/><polygon points="290,155 400,158 432,590 650,452 702,592 910,455 965,580 1165,440 1150,955 272,955 262,580" fill="#fff"/><path d="M322,720 H422 V840 H330 Z M490,720 H590 V840 H492 Z M658,720 H757 V840 H659 Z M826,720 H925 V840 H826 Z M993,720 H1093 L1088,840 H995 Z" fill="#a0ebc6"/></g>
<g transform="translate(540,1400) scale(0.192440)"><polygon points="470,208 945,208 1203,572 1203,1012 210,1012 210,572" fill="#14387f"/><polygon points="485,290 708,592 698,955 270,955 258,590" fill="#fff"/><polygon points="545,268 915,268 1158,592 1143,955 758,955 750,570" fill="#fff"/><path d="M412,727 H543 V955 H422 Z M825,720 H925 V840 H827 Z M997,720 H1097 L1090,840 H999 Z" fill="#a0ebc6"/></g>
<g transform="translate(880,1360) scale(0.225989)"><g><path d="M150,230 L490,255 L497,352 C400,340 270,325 205,290 C175,272 155,250 150,230 Z" fill="#14387f"/><path d="M200,260 L485,282 L488,318 C400,310 290,300 235,280 C220,275 208,268 200,260 Z" fill="#fff"/><circle cx="345" cy="343" r="57" fill="#14387f"/><circle cx="345" cy="343" r="34" fill="#a0ebc6"/><rect x="450" y="345" width="18" height="42" fill="#14387f"/><rect x="435" y="383" width="47" height="49" rx="9" fill="#a0ebc6"/><path d="M503,398 Q520,418 560,416 L560,398 Z" fill="#14387f"/></g><g transform="translate(1226,0) scale(-1,1)"><path d="M150,230 L490,255 L497,352 C400,340 270,325 205,290 C175,272 155,250 150,230 Z" fill="#14387f"/><path d="M200,260 L485,282 L488,318 C400,310 290,300 235,280 C220,275 208,268 200,260 Z" fill="#fff"/><circle cx="345" cy="343" r="57" fill="#14387f"/><circle cx="345" cy="343" r="34" fill="#a0ebc6"/><rect x="450" y="345" width="18" height="42" fill="#14387f"/><rect x="435" y="383" width="47" height="49" rx="9" fill="#a0ebc6"/><path d="M503,398 Q520,418 560,416 L560,398 Z" fill="#14387f"/></g><path d="M613,75 C700,75 745,150 745,235 C745,340 665,462 613,462 C561,462 483,340 483,235 C483,150 530,75 613,75 Z" fill="#14387f"/><path d="M613,103 C680,103 717,165 717,235 C717,330 655,432 613,432 C571,432 510,330 510,235 C510,165 548,103 613,103 Z" fill="#fff"/><path d="M545,180 Q613,105 682,178 Q613,150 545,180 Z" fill="#a0ebc6"/><polygon points="600,232 626,232 621,276 605,276" fill="#14387f"/><rect x="590" y="282" width="47" height="48" rx="9" fill="#a0ebc6"/><rect x="385" y="478" width="457" height="522" fill="#14387f"/><path d="M445,505 H783 Q818,505 818,540 L812,970 H416 L410,540 Q410,505 445,505 Z" fill="#fff"/><rect x="358" y="672" width="34" height="84" rx="10" fill="#14387f"/><rect x="836" y="672" width="33" height="84" rx="10" fill="#14387f"/><path d="M455,645 H518 L490,770 H450 Q438,770 438,758 V662 Q438,645 455,645 Z M580,645 H772 Q790,645 790,663 V770 H748 A45,45 0 0 0 662,770 H535 Z" fill="#a0ebc6"/><path d="M513,815 H713 L710,848 H517 Z M518,862 H709 L707,893 H521 Z M523,907 H705 L703,940 H527 Z" fill="#14387f"/><rect x="438" y="868" width="62" height="47" rx="11" fill="#a0ebc6"/><rect x="727" y="868" width="63" height="47" rx="11" fill="#a0ebc6"/><rect x="410" y="990" width="85" height="60" rx="10" fill="#14387f"/><rect x="490" y="990" width="40" height="34" fill="#14387f"/><rect x="733" y="990" width="85" height="60" rx="10" fill="#14387f"/><rect x="697" y="990" width="40" height="34" fill="#14387f"/></g>
<g transform="translate(1600,1420) scale(0.225989)"><path d="M657,80 C630,180 650,280 730,390 C800,480 945,620 945,790 C945,970 800,1105 610,1105 C420,1105 268,970 268,790 C268,640 380,500 450,420 C495,360 520,310 520,248 Z" fill="#fff"/><path d="M657,80 C630,180 650,280 730,390 C800,480 945,620 945,790 C945,970 800,1105 610,1105 C420,1105 268,970 268,790 C268,640 380,500 450,420 C495,360 520,310 520,248 C542,330 516,400 450,480 C390,560 322,660 322,790 C322,940 450,1050 610,1050 C770,1050 890,940 890,790 C890,650 780,520 700,420 C630,330 585,200 657,80 Z" fill="#14387f"/><path d="M585,312 C590,400 680,480 740,570 C790,640 815,700 810,780 C800,900 710,970 610,970 C500,970 400,890 400,760 C400,660 450,590 500,520 C540,460 585,400 585,312 Z" fill="#a0ebc6"/><circle cx="483" cy="637" r="68" fill="#fff"/><circle cx="672" cy="815" r="78" fill="#14387f"/><circle cx="628" cy="762" r="47" fill="#a0ebc6"/></g>
<g transform="translate(2320,1390) scale(0.200861)"><path d="M468,48 H845 L828,360 L1020,920 C1035,960 1010,985 960,1000 C850,1030 550,1030 420,1000 C365,985 350,950 362,920 L530,390 C545,330 545,250 543,190 C540,140 510,118 468,118 Z" fill="#14387f"/><path d="M523,85 L805,92 L793,370 L965,905 C940,950 800,970 690,972 C560,970 440,955 418,900 L575,410 C590,340 592,250 588,180 C585,125 560,100 523,85 Z" fill="#fff"/><path d="M545,640 Q690,608 835,638 L915,870 C915,910 800,930 690,930 C580,930 465,910 465,870 Z" fill="#a0ebc6"/><circle cx="643" cy="558" r="26" fill="#a0ebc6"/><circle cx="770" cy="700" r="20" fill="#fff"/><circle cx="713" cy="798" r="43" fill="none" stroke="#fff" stroke-width="30"/></g>
<g transform="translate(2660,1390) scale(0.200861)"><path d="M628,68 H747 Q772,68 772,93 V180 H603 V93 Q603,68 628,68 Z" fill="#a0ebc6"/><path d="M628,180 H748 C790,250 900,360 912,470 L912,535 Q925,590 912,648 Q925,700 912,760 Q930,850 922,940 C915,1010 820,1045 688,1045 C556,1045 461,1010 454,940 Q446,850 464,760 Q451,700 464,648 Q451,590 464,535 L464,470 C476,360 586,250 628,180 Z" fill="#14387f"/><path d="M640,210 H736 C775,270 850,350 862,450 L862,525 L842,535 L842,560 L862,575 V635 L842,648 L842,672 L862,685 V745 L838,758 L838,785 L870,800 C872,850 872,900 868,935 C850,980 770,995 688,995 C606,995 526,980 508,935 C504,900 504,850 506,800 L538,785 L538,758 L514,745 V685 L534,672 L534,648 L514,635 V575 L534,560 L534,535 L514,525 V450 C526,350 601,270 640,210 Z" fill="#fff"/><path d="M490,445 L590,300 L855,297 L942,412 L977,388 L920,518 L750,518 L798,490 L725,393 L630,525 Z M985,495 L1050,650 L965,882 L815,885 L815,937 L718,800 L810,668 L810,715 L935,715 L865,570 Z M695,885 L490,885 L405,655 L455,530 L430,507 L545,502 L628,637 L572,612 L520,718 L695,718 Z" fill="#a0ebc6" transform="translate(411,161.3) scale(0.38,0.484)"/></g>
<g transform="translate(3000,1390) scale(0.200861)"><path d="M430,290 L385,900 C385,990 480,1045 690,1045 C880,1045 975,990 980,900 L935,285 Z" fill="#14387f"/><path d="M478,292 L448,900 C450,960 540,990 690,992 C830,990 915,960 920,900 L890,285 Z" fill="#fff"/><polygon points="478,295 890,288 890,322 476,348" fill="#a0ebc6"/><path d="M405,200 L960,210 Q978,212 982,230 L993,288 L372,297 L383,218 Q387,200 405,200 Z" fill="#14387f"/><path d="M490,445 L590,300 L855,297 L942,412 L977,388 L920,518 L750,518 L798,490 L725,393 L630,525 Z M985,495 L1050,650 L965,882 L815,885 L815,937 L718,800 L810,668 L810,715 L935,715 L865,570 Z M695,885 L490,885 L405,655 L455,530 L430,507 L545,502 L628,637 L572,612 L520,718 L695,718 Z" fill="#a0ebc6" transform="translate(331.8,252) scale(0.482,0.606)"/></g>
<text x="341.50" y="754.5" text-anchor="middle" font-size="44" fill="#14387f" class="lb" textLength="101.06" lengthAdjust="spacingAndGlyphs">Solar</text>
<text x="677.25" y="754.5" text-anchor="middle" font-size="44" fill="#14387f" class="lb" textLength="101.63" lengthAdjust="spacingAndGlyphs">Wind</text>
<text x="1018.25" y="754.5" text-anchor="middle" font-size="44" fill="#14387f" class="lb" textLength="113.74" lengthAdjust="spacingAndGlyphs">Water</text>
<text x="2797.00" y="754.5" text-anchor="middle" font-size="44" fill="#14387f" class="lb" textLength="161.25" lengthAdjust="spacingAndGlyphs">Biomass</text>
<text x="3381.25" y="754.5" text-anchor="middle" font-size="44" fill="#14387f" class="lb" textLength="183.21" lengthAdjust="spacingAndGlyphs">Recycling</text>
<text x="336.00" y="1680" text-anchor="middle" font-size="44" fill="#14387f" class="lb" textLength="151.02" lengthAdjust="spacingAndGlyphs">Industry</text>
<text x="674.75" y="1680" text-anchor="middle" font-size="44" fill="#14387f" class="lb" textLength="114.94" lengthAdjust="spacingAndGlyphs">Home</text>
<text x="1016.75" y="1680" text-anchor="middle" font-size="44" fill="#14387f" class="lb" textLength="149.50" lengthAdjust="spacingAndGlyphs">Mobility</text>
<text x="2457.50" y="1680" text-anchor="middle" font-size="44" fill="#14387f" class="lb" textLength="202.00" lengthAdjust="spacingAndGlyphs">Chemicals</text>
<text x="2796.75" y="1680" text-anchor="middle" font-size="44" fill="#14387f" class="lb" textLength="150.56" lengthAdjust="spacingAndGlyphs">Plastics</text>
<text x="3136.75" y="1680" text-anchor="middle" font-size="44" fill="#14387f" class="lb" textLength="312.67" lengthAdjust="spacingAndGlyphs">Other renewable</text>
<text x="3136.00" y="1731" text-anchor="middle" font-size="44" fill="#14387f" class="lb" textLength="175.48" lengthAdjust="spacingAndGlyphs">materials</text>
<text x="1305.40" y="1217" text-anchor="middle" font-size="44" fill="#14387f" class="lb" textLength="184.06" lengthAdjust="spacingAndGlyphs">Hydrogen</text>
<text x="1735.75" y="1746" text-anchor="middle" font-size="44" fill="#14387f" class="lb" textLength="561.53" lengthAdjust="spacingAndGlyphs">Renewable carbon-based fuel</text>
<text x="2213.90" y="754.5" text-anchor="middle" font-size="44" fill="#14387f" class="lb" textLength="85.59" lengthAdjust="spacingAndGlyphs">CO<tspan font-size="25" dy="8.5">2</tspan></text>
<text x="675.50" y="1063" text-anchor="middle" font-size="108" font-weight="700" fill="#0b1026" textLength="604.86" lengthAdjust="spacingAndGlyphs">Renewable</text>
<text x="676.25" y="1162" text-anchor="middle" font-size="108" font-weight="700" fill="#0b1026" textLength="372.82" lengthAdjust="spacingAndGlyphs">Energy</text>
<text x="2797.50" y="1063" text-anchor="middle" font-size="108" font-weight="700" fill="#0b1026" textLength="604.86" lengthAdjust="spacingAndGlyphs">Renewable</text>
<text x="2798.75" y="1162" text-anchor="middle" font-size="108" font-weight="700" fill="#0b1026" textLength="410.63" lengthAdjust="spacingAndGlyphs">Carbon</text>
</svg></body></html>
